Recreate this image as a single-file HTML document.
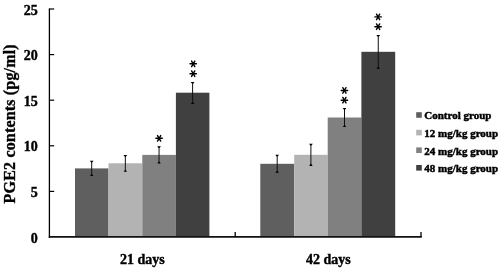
<!DOCTYPE html>
<html><head><meta charset="utf-8"><style>
html,body{margin:0;padding:0;background:#fff;}
body{width:500px;height:271px;overflow:hidden;}
svg{display:block;will-change:transform;filter:blur(0.3px);}
text{font-family:"Liberation Serif",serif;font-weight:bold;fill:#000;stroke:#000;stroke-width:0.3px;}
.t14{font-size:14px;stroke-width:0.4px;}
.t16{font-size:16px;stroke-width:0.35px;}
.t11{font-size:11px;stroke-width:0.45px;}
</style></head><body>
<svg width="500" height="271" viewBox="0 0 500 271">
<rect x="0" y="0" width="500" height="271" fill="#fff"/>
<rect x="75.0" y="168.4" width="33.50" height="68.60" fill="#5f5f5f"/>
<rect x="108.5" y="163.3" width="33.80" height="73.70" fill="#b3b3b3"/>
<rect x="142.3" y="154.9" width="33.60" height="82.10" fill="#808080"/>
<rect x="175.9" y="92.7" width="33.50" height="144.30" fill="#404040"/>
<rect x="260.3" y="163.8" width="33.90" height="73.20" fill="#5f5f5f"/>
<rect x="294.2" y="154.8" width="33.50" height="82.20" fill="#b3b3b3"/>
<rect x="327.7" y="117.5" width="33.70" height="119.50" fill="#808080"/>
<rect x="361.4" y="51.8" width="33.80" height="185.20" fill="#404040"/>
<line x1="91.70" y1="161.2" x2="91.70" y2="175.6" stroke="#111" stroke-width="1.0"/>
<path d="M89.80 160.80H93.60L92.20 162.60H91.20Z" fill="#000"/>
<path d="M90.00 176.10H93.40L92.20 174.30H91.20Z" fill="#000"/>
<line x1="125.35" y1="155.4" x2="125.35" y2="171.2" stroke="#111" stroke-width="1.0"/>
<path d="M123.45 155.00H127.25L125.85 156.80H124.85Z" fill="#000"/>
<path d="M123.65 171.70H127.05L125.85 169.90H124.85Z" fill="#000"/>
<line x1="159.05" y1="146.6" x2="159.05" y2="163.0" stroke="#111" stroke-width="1.0"/>
<path d="M157.15 146.20H160.95L159.55 148.00H158.55Z" fill="#000"/>
<path d="M157.35 163.50H160.75L159.55 161.70H158.55Z" fill="#000"/>
<line x1="192.60" y1="82.3" x2="192.60" y2="103.6" stroke="#111" stroke-width="1.0"/>
<path d="M190.70 81.90H194.50L193.10 83.70H192.10Z" fill="#000"/>
<path d="M190.90 104.10H194.30L193.10 102.30H192.10Z" fill="#000"/>
<line x1="277.20" y1="155.1" x2="277.20" y2="172.3" stroke="#111" stroke-width="1.0"/>
<path d="M275.30 154.70H279.10L277.70 156.50H276.70Z" fill="#000"/>
<path d="M275.50 172.80H278.90L277.70 171.00H276.70Z" fill="#000"/>
<line x1="310.90" y1="144.2" x2="310.90" y2="165.4" stroke="#111" stroke-width="1.0"/>
<path d="M309.00 143.80H312.80L311.40 145.60H310.40Z" fill="#000"/>
<path d="M309.20 165.90H312.60L311.40 164.10H310.40Z" fill="#000"/>
<line x1="344.50" y1="108.3" x2="344.50" y2="126.5" stroke="#111" stroke-width="1.0"/>
<path d="M342.60 107.90H346.40L345.00 109.70H344.00Z" fill="#000"/>
<path d="M342.80 127.00H346.20L345.00 125.20H344.00Z" fill="#000"/>
<line x1="378.25" y1="35.4" x2="378.25" y2="68.3" stroke="#111" stroke-width="1.0"/>
<path d="M376.35 35.00H380.15L378.75 36.80H377.75Z" fill="#000"/>
<path d="M376.55 68.80H379.95L378.75 67.00H377.75Z" fill="#000"/>
<line x1="49.4" y1="8.4" x2="49.4" y2="238.0" stroke="#000" stroke-width="1.3"/>
<line x1="48.8" y1="236.9" x2="421.8" y2="236.9" stroke="#111" stroke-width="1.8"/>
<line x1="49.5" y1="9.00" x2="54.2" y2="9.00" stroke="#000" stroke-width="1.2"/>
<text x="37.8" y="14.50" text-anchor="end" class="t14">25</text>
<line x1="49.5" y1="54.60" x2="54.2" y2="54.60" stroke="#000" stroke-width="1.2"/>
<text x="37.8" y="60.10" text-anchor="end" class="t14">20</text>
<line x1="49.5" y1="100.20" x2="54.2" y2="100.20" stroke="#000" stroke-width="1.2"/>
<text x="37.8" y="105.70" text-anchor="end" class="t14">15</text>
<line x1="49.5" y1="145.80" x2="54.2" y2="145.80" stroke="#000" stroke-width="1.2"/>
<text x="37.8" y="151.30" text-anchor="end" class="t14">10</text>
<line x1="49.5" y1="191.40" x2="54.2" y2="191.40" stroke="#000" stroke-width="1.2"/>
<text x="37.8" y="196.90" text-anchor="end" class="t14">5</text>
<text x="37.8" y="242.50" text-anchor="end" class="t14">0</text>
<line x1="235.2" y1="232" x2="235.2" y2="237.0" stroke="#000" stroke-width="1.3"/>
<line x1="421.0" y1="232" x2="421.0" y2="237.0" stroke="#000" stroke-width="1.3"/>
<text x="142.4" y="264.2" text-anchor="middle" class="t14">21 days</text>
<text x="328.3" y="264.2" text-anchor="middle" class="t14">42 days</text>
<text transform="translate(14.8 123.85) rotate(-90)" text-anchor="middle" class="t16" textLength="159.1" lengthAdjust="spacing">PGE2 contents (pg/ml)</text>
<line x1="155.90" y1="138.30" x2="162.30" y2="138.30" stroke="#000" stroke-width="1.4" stroke-linecap="round"/><line x1="157.50" y1="135.53" x2="160.70" y2="141.07" stroke="#000" stroke-width="1.4" stroke-linecap="round"/><line x1="160.70" y1="135.53" x2="157.50" y2="141.07" stroke="#000" stroke-width="1.4" stroke-linecap="round"/>
<line x1="190.00" y1="63.80" x2="196.40" y2="63.80" stroke="#000" stroke-width="1.4" stroke-linecap="round"/><line x1="191.60" y1="61.03" x2="194.80" y2="66.57" stroke="#000" stroke-width="1.4" stroke-linecap="round"/><line x1="194.80" y1="61.03" x2="191.60" y2="66.57" stroke="#000" stroke-width="1.4" stroke-linecap="round"/>
<line x1="190.00" y1="73.70" x2="196.40" y2="73.70" stroke="#000" stroke-width="1.4" stroke-linecap="round"/><line x1="191.60" y1="70.93" x2="194.80" y2="76.47" stroke="#000" stroke-width="1.4" stroke-linecap="round"/><line x1="194.80" y1="70.93" x2="191.60" y2="76.47" stroke="#000" stroke-width="1.4" stroke-linecap="round"/>
<line x1="341.20" y1="90.45" x2="347.60" y2="90.45" stroke="#000" stroke-width="1.4" stroke-linecap="round"/><line x1="342.80" y1="87.68" x2="346.00" y2="93.22" stroke="#000" stroke-width="1.4" stroke-linecap="round"/><line x1="346.00" y1="87.68" x2="342.80" y2="93.22" stroke="#000" stroke-width="1.4" stroke-linecap="round"/>
<line x1="341.20" y1="100.20" x2="347.60" y2="100.20" stroke="#000" stroke-width="1.4" stroke-linecap="round"/><line x1="342.80" y1="97.43" x2="346.00" y2="102.97" stroke="#000" stroke-width="1.4" stroke-linecap="round"/><line x1="346.00" y1="97.43" x2="342.80" y2="102.97" stroke="#000" stroke-width="1.4" stroke-linecap="round"/>
<line x1="374.90" y1="16.90" x2="381.30" y2="16.90" stroke="#000" stroke-width="1.4" stroke-linecap="round"/><line x1="376.50" y1="14.13" x2="379.70" y2="19.67" stroke="#000" stroke-width="1.4" stroke-linecap="round"/><line x1="379.70" y1="14.13" x2="376.50" y2="19.67" stroke="#000" stroke-width="1.4" stroke-linecap="round"/>
<line x1="374.90" y1="26.70" x2="381.30" y2="26.70" stroke="#000" stroke-width="1.4" stroke-linecap="round"/><line x1="376.50" y1="23.93" x2="379.70" y2="29.47" stroke="#000" stroke-width="1.4" stroke-linecap="round"/><line x1="379.70" y1="23.93" x2="376.50" y2="29.47" stroke="#000" stroke-width="1.4" stroke-linecap="round"/>
<rect x="416.2" y="112.20" width="5.6" height="5.6" fill="#5f5f5f"/>
<text x="424.3" y="119.30" class="t11">Control group</text>
<rect x="416.2" y="129.80" width="5.6" height="5.6" fill="#b3b3b3"/>
<text x="424.3" y="136.90" class="t11">12 mg/kg group</text>
<rect x="416.2" y="147.40" width="5.6" height="5.6" fill="#808080"/>
<text x="424.3" y="154.50" class="t11">24 mg/kg group</text>
<rect x="416.2" y="165.00" width="5.6" height="5.6" fill="#404040"/>
<text x="424.3" y="172.10" class="t11">48 mg/kg group</text>
</svg>
</body></html>
